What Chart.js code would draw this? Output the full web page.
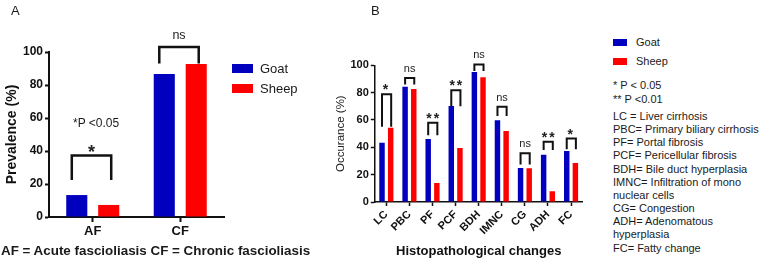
<!DOCTYPE html>
<html>
<head>
<meta charset="utf-8">
<script src="https://cdn.jsdelivr.net/npm/chart.js@4.4.0/dist/chart.umd.min.js"></script>
<style>
  body { margin: 0; width: 764px; height: 261px; background: #fff; position: relative; overflow: hidden;
         font-family: "Liberation Sans", Arial, sans-serif; color: #1a1a1a; }
  canvas { position: absolute; top: 0; }
  #ca { left: 0; }
  #cb { left: 330px; }
  .t { position: absolute; white-space: nowrap; line-height: 1; }
  .sw { position: absolute; }
  #defs { position: absolute; left: 613px; top: 110px; font-size: 11px; line-height: 13.16px; white-space: nowrap; }
</style>
</head>
<body>
<canvas id="ca" width="300" height="261"></canvas>
<canvas id="cb" width="270" height="261"></canvas>
<div id="defs"></div>

<script>
const seriesNames = ["Goat", "Sheep"];
const seriesColors = ["#0000BE", "#FF0000"];
const yTicks = [0, 20, 40, 60, 80, 100];

// panel A
const catsA = ["AF", "CF"];
const goatA = [13.3, 86.7];
const sheepA = [7.3, 92.7];
const sigA = ["*", "ns"];

// panel B
const catsB = ["LC", "PBC", "PF", "PCF", "BDH", "IMNC", "CG", "ADH", "FC"];
const goatB = [43.4, 84.4, 46.1, 70.2, 95.1, 59.8, 24.9, 34.6, 37.3];
const sheepB = [54.4, 82.7, 13.9, 39.5, 91.2, 52.0, 24.6, 7.8, 28.5];
const sigB = ["*", "ns", "**", "**", "ns", "ns", "ns", "**", "*"];

const defsB = [
  "LC = Liver cirrhosis",
  "PBC= Primary biliary cirrhosis",
  "PF= Portal fibrosis",
  "PCF= Pericellular fibrosis",
  "BDH= Bile duct hyperplasia",
  "IMNC= Infiltration of mono",
  "nuclear cells",
  "CG= Congestion",
  "ADH= Adenomatous",
  "hyperplasia",
  "FC= Fatty change"
];

// bracket levels [top, leg end] in axis units
const bracketA = [[37.2, 22.4], [103, 93]];
const bracketB = [[78.8, 55], [90.7, 85.9], [57.9, 48.9], [81.8, 70.1], [100.5, 95.8],
                  [69.6, 63], [35.6, 27.5], [44.1, 38], [46.5, 38.5]];

const ink = "#111";

// draws the significance brackets and their labels
const bracketPlugin = {
  id: "brackets",
  afterDatasetsDraw(chart, args, o) {
    const ctx = chart.ctx;
    const y = chart.scales.y;
    const m0 = chart.getDatasetMeta(0).data;
    const m1 = chart.getDatasetMeta(1).data;
    ctx.save();
    ctx.strokeStyle = ink;
    ctx.lineWidth = o.lineWidth;
    ctx.lineJoin = "miter";
    ctx.fillStyle = "#222";
    ctx.textAlign = "center";
    ctx.textBaseline = "alphabetic";
    o.levels.forEach((lv, i) => {
      const x1 = m0[i].x + o.dxL, x2 = m1[i].x + o.dxR;
      const yt = y.getPixelForValue(lv[0]), yb = y.getPixelForValue(lv[1]);
      ctx.beginPath();
      ctx.moveTo(x1, yb); ctx.lineTo(x1, yt); ctx.lineTo(x2, yt); ctx.lineTo(x2, yb);
      ctx.stroke();
      const s = o.labels[i];
      const cx = (x1 + x2) / 2;
      if (s.includes("*")) {
        ctx.font = "bold " + o.starSize + "px 'Liberation Sans', Arial";
        ctx.letterSpacing = o.starGap + "px";
        ctx.fillText(s, cx + (s.length > 1 ? o.starGap / 2 : 0), yt - o.starUp + 0.58 * o.starSize);
        ctx.letterSpacing = "0px";
      } else {
        ctx.font = o.nsSize + "px 'Liberation Sans', Arial";
        ctx.fillText(s, cx, yt - o.nsUp + 0.26 * o.nsSize);
      }
    });
    ctx.restore();
  }
};

function datasets(a, b, cp, bp) {
  return [a, b].map((d, i) => ({
    label: seriesNames[i], data: d, backgroundColor: seriesColors[i],
    categoryPercentage: cp, barPercentage: bp
  }));
}

new Chart(document.getElementById("ca"), {
  type: "bar",
  data: { labels: catsA, datasets: datasets(goatA, sheepA, 0.73, 0.66) },
  options: {
    responsive: false,
    animation: false,
    layout: { padding: { left: 0, top: 52, right: 76, bottom: 0 } },
    plugins: {
      legend: { display: false },
      tooltip: { enabled: false },
      brackets: { levels: bracketA, labels: sigA, lineWidth: 2.5, dxL: -5, dxR: 2.5,
                  starSize: 18, starUp: 8.5, starGap: 0, nsSize: 12.5, nsUp: 11.5 }
    },
    scales: {
      x: {
        grid: { drawOnChartArea: false, offset: false, tickLength: 5, tickColor: ink, tickWidth: 2 },
        border: { color: ink, width: 2 },
        ticks: { font: { size: 13, weight: "bold" }, color: ink, padding: 2 },
        afterFit: s => { s.height = 44; }
      },
      y: {
        min: 0, max: 100,
        afterBuildTicks: s => { s.ticks = yTicks.map(v => ({ value: v })); },
        grid: { drawOnChartArea: false, tickLength: 4, tickColor: ink, tickWidth: 2 },
        border: { color: ink, width: 2 },
        ticks: { font: { size: 12, weight: "bold" }, color: ink, padding: 2 },
        title: { display: true, text: "Prevalence (%)", font: { size: 14, weight: "bold" }, color: ink, padding: { top: 4, bottom: 0 } },
        afterFit: s => { s.width = 49; }
      }
    }
  },
  plugins: [bracketPlugin]
});

new Chart(document.getElementById("cb"), {
  type: "bar",
  data: { labels: catsB, datasets: datasets(goatB, sheepB, 0.75, 0.63) },
  options: {
    responsive: false,
    animation: false,
    layout: { padding: { left: 0, top: 65.3, right: 17.4, bottom: 0 } },
    plugins: {
      legend: { display: false },
      tooltip: { enabled: false },
      brackets: { levels: bracketB, labels: sigB, lineWidth: 2, dxL: 0, dxR: 0.5,
                  starSize: 14, starUp: 8, starGap: 2, nsSize: 11, nsUp: 9 }
    },
    scales: {
      x: {
        grid: { drawOnChartArea: false, offset: false, tickLength: 4, tickColor: ink, tickWidth: 1.5 },
        border: { color: ink, width: 1.5 },
        ticks: { font: { size: 11, weight: "bold" }, color: ink, padding: 2, minRotation: 45, maxRotation: 45 },
        title: { display: true, text: "Histopathological changes", font: { size: 13, weight: "bold" }, color: ink, padding: { top: 0, bottom: 2 } },
        afterFit: s => { s.height = 59; }
      },
      y: {
        min: 0, max: 100,
        afterBuildTicks: s => { s.ticks = yTicks.map(v => ({ value: v })); },
        grid: { drawOnChartArea: false, tickLength: 4, tickColor: ink, tickWidth: 1.5 },
        border: { color: ink, width: 1.5 },
        ticks: { font: { size: 11, weight: "bold" }, color: ink, padding: 2 },
        title: { display: true, text: "Occurance (%)", font: { size: 11.5 }, color: "#222", padding: { top: 4, bottom: 0 } },
        afterFit: s => { s.width = 44.8; }
      }
    }
  },
  plugins: [bracketPlugin]
});

// html text: panel letters, legends, notes
function put(text, x, yc, size, weight) {
  const d = document.createElement("div");
  d.className = "t";
  d.textContent = text;
  d.style.left = x + "px";
  d.style.top = (yc - size / 2) + "px";
  d.style.fontSize = size + "px";
  if (weight) d.style.fontWeight = weight;
  document.body.appendChild(d);
}
function swatch(x, yc, w, h, c) {
  const d = document.createElement("div");
  d.className = "sw";
  Object.assign(d.style, { left: x + "px", top: (yc - h / 2) + "px", width: w + "px", height: h + "px", background: c });
  document.body.appendChild(d);
}

put("A", 11, 10.5, 13);
put("B", 371, 10.5, 13);

[68.5, 88.5].forEach((yc, i) => {
  swatch(232, yc, 21, 9, seriesColors[i]);
  put(seriesNames[i], 260, yc, 13);
});
[42, 61].forEach((yc, i) => {
  swatch(613, yc, 14, 7, seriesColors[i]);
  put(seriesNames[i], 636, yc, 11);
});

put("*P <0.05", 73, 123, 12);
put("* P < 0.05", 613, 85, 11);
put("** P <0.01", 613, 99, 11);
put("AF = Acute fascioliasis CF = Chronic fascioliasis", 1, 250.5, 13.4, "bold");

document.getElementById("defs").innerHTML = defsB.join("<br>");
</script>
</body>
</html>
